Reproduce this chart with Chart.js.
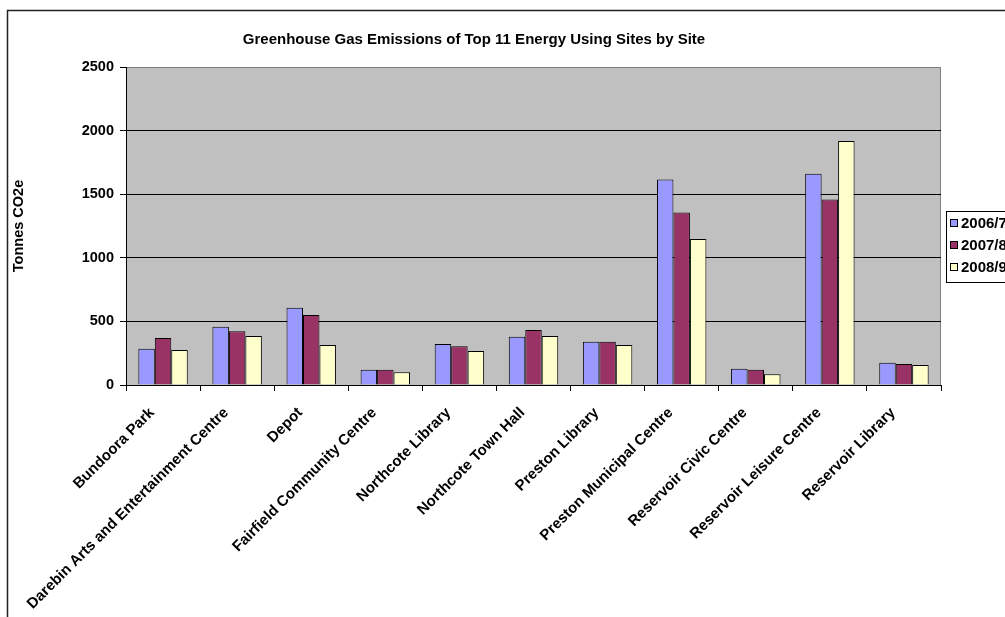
<!DOCTYPE html>
<html>
<head>
<meta charset="utf-8">
<script src="https://cdn.jsdelivr.net/npm/chart.js@4/dist/chart.umd.min.js"></script>
<style>
    html, body { margin: 0; padding: 0; background: #fff; overflow: hidden; }
    #grafico { display: block; }
</style>
</head>
<body>
<canvas id="grafico" width="1005" height="617"></canvas>
<script>
// ======================= DADOS =======================
const sites = [
    'Bundoora Park',
    'Darebin Arts and Entertainment Centre',
    'Depot',
    'Fairfield Community Centre',
    'Northcote Library',
    'Northcote Town Hall',
    'Preston Library',
    'Preston Municipal Centre',
    'Reservoir Civic Centre',
    'Reservoir Leisure Centre',
    'Reservoir Library',
];
const seriesLabels = ['2006/7', '2007/8', '2008/9'];
const emissions2006 = [285, 458, 607, 120, 322, 380, 340, 1616, 128, 1660, 175];
const emissions2007 = [369, 422, 550, 120, 304, 432, 340, 1356, 120, 1459, 165];
const emissions2008 = [275, 385, 314, 100, 267, 385, 314, 1147, 84, 1919, 157];
const yTicks = [0, 500, 1000, 1500, 2000, 2500];

const chartTitle = 'Greenhouse Gas Emissions of Top 11 Energy Using Sites by Site';
const yTitle = 'Tonnes CO2e';

const FONT = '"Liberation Sans", Arial, sans-serif';
const colors = ['#9999FF', '#993366', '#FFFFCC'];

// fundo cinza da área do gráfico, borda externa, título e legenda
const excelLook = {
    id: 'excelLook',
    beforeDraw(chart) {
        const { ctx, chartArea: a } = chart;
        ctx.save();
        ctx.fillStyle = '#C0C0C0';
        ctx.fillRect(a.left, a.top, a.right - a.left, a.bottom - a.top);
        ctx.strokeStyle = '#808080';
        ctx.lineWidth = 1;
        ctx.beginPath();
        ctx.moveTo(a.left, a.top + 0.5);
        ctx.lineTo(a.right - 0.5, a.top + 0.5);
        ctx.lineTo(a.right - 0.5, a.bottom);
        ctx.stroke();
        ctx.restore();
    },
    afterDraw(chart) {
        const { ctx } = chart;
        ctx.save();
        // moldura externa
        ctx.strokeStyle = '#222';
        ctx.lineWidth = 1.5;
        ctx.strokeRect(7.5, 10.5, 1200, 800);

        // título
        ctx.fillStyle = '#000';
        ctx.font = 'bold 15px ' + FONT;
        ctx.textAlign = 'center';
        ctx.textBaseline = 'middle';
        ctx.fillText(chartTitle, 474, 40);

        // legenda
        ctx.strokeStyle = '#000';
        ctx.lineWidth = 1;
        ctx.fillStyle = '#fff';
        ctx.fillRect(946.5, 211.5, 200, 71);
        ctx.strokeRect(946.5, 211.5, 200, 71);
        ctx.font = 'bold 15px ' + FONT;
        ctx.textAlign = 'left';
        chart.data.datasets.forEach((ds, i) => {
            const y = 223 + i * 22;
            ctx.fillStyle = ds.backgroundColor;
            ctx.fillRect(950.5, y - 3.5, 7, 7);
            ctx.strokeRect(950.5, y - 3.5, 7, 7);
            ctx.fillStyle = '#000';
            ctx.fillText(ds.label, 961, y + 1);
        });
        ctx.restore();
    },
};

function makeDataset(label, data, i) {
    return {
        label,
        data,
        backgroundColor: colors[i],
        borderColor: '#000',
        borderWidth: 1,
        categoryPercentage: 0.667,
        barPercentage: 1.0,
    };
}

new Chart(document.getElementById('grafico'), {
    type: 'bar',
    data: {
        labels: sites,
        datasets: [
            makeDataset(seriesLabels[0], emissions2006, 0),
            makeDataset(seriesLabels[1], emissions2007, 1),
            makeDataset(seriesLabels[2], emissions2008, 2),
        ],
    },
    options: {
        responsive: false,
        animation: false,
        devicePixelRatio: 1,
        layout: { padding: { left: 0, top: 67, right: 64, bottom: 2 } },
        plugins: {
            legend: { display: false },
            title: { display: false },
            tooltip: { enabled: false },
        },
        scales: {
            x: {
                afterFit: (s) => { s.height = 617 - 385 - 2; },
                grid: {
                    offset: true,
                    drawOnChartArea: false,
                    drawTicks: true,
                    tickLength: 6,
                    color: '#000',
                },
                border: { display: true, color: '#000', width: 1 },
                ticks: {
                    autoSkip: false,
                    minRotation: 45,
                    maxRotation: 45,
                    padding: 13,
                    labelOffset: -11,
                    color: '#000',
                    font: { family: FONT, size: 15, weight: 'bold' },
                },
            },
            y: {
                min: 0,
                max: 2500,
                afterFit: (s) => { s.width = 126; },
                afterBuildTicks: (s) => { s.ticks = yTicks.map((v) => ({ value: v })); },
                grid: {
                    color: (c) => (c.tick && c.tick.value === 2500 ? '#808080' : '#000'),
                    tickColor: '#000',
                    drawTicks: true,
                    tickLength: 6,
                },
                border: { display: true, color: '#000', width: 1 },
                ticks: {
                    padding: 6,
                    color: '#000',
                    callback: (v) => String(v),
                    font: { family: FONT, size: 14.5, weight: 'bold' },
                },
                title: {
                    display: true,
                    text: yTitle,
                    color: '#000',
                    padding: { top: 10, bottom: 0 },
                    font: { family: FONT, size: 14.5, weight: 'bold' },
                },
            },
        },
    },
    plugins: [excelLook],
});
</script>
</body>
</html>
